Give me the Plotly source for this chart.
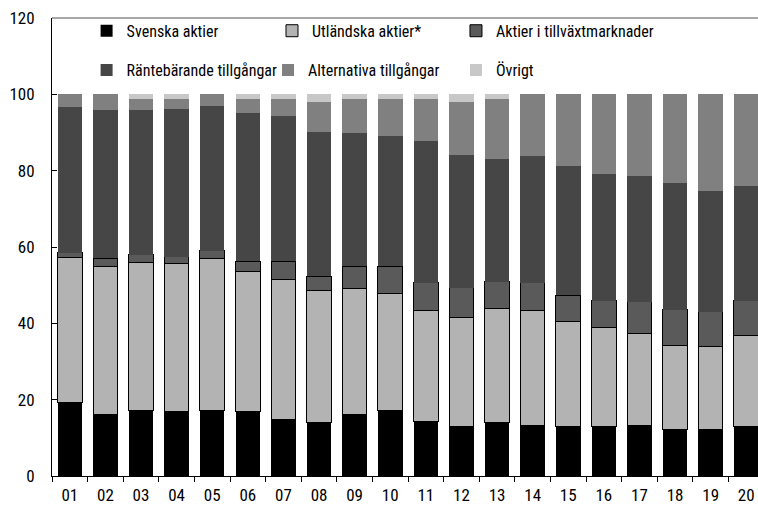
import plotly.graph_objects as go

years = ["01", "02", "03", "04", "05", "06", "07", "08", "09", "10",
         "11", "12", "13", "14", "15", "16", "17", "18", "19", "20"]

svenska = [19.2, 16.1, 17.1, 16.9, 17.1, 16.9, 14.9, 13.9, 16.1, 17.1,
           14.3, 12.9, 14.1, 13.2, 12.9, 13.1, 13.2, 12.2, 12.1, 13.1]
utlandska = [38.1, 38.8, 38.9, 38.7, 39.9, 36.6, 36.6, 34.7, 32.9, 30.8,
             29.1, 28.7, 29.9, 30.2, 27.6, 25.8, 24.2, 22.1, 21.9, 23.8]
tillvaxt = [1.2, 2.1, 2.0, 1.8, 2.0, 2.8, 4.8, 3.8, 6.0, 7.1,
            7.2, 7.7, 6.9, 7.2, 6.8, 7.0, 8.2, 9.3, 9.0, 9.0]
rante = [38.3, 38.8, 37.8, 38.8, 37.9, 38.9, 37.9, 37.7, 34.9, 34.1,
         37.1, 34.8, 32.1, 33.2, 33.9, 33.1, 33.1, 33.1, 31.8, 30.0]
alternativa = [3.2, 4.2, 3.1, 2.7, 3.1, 3.7, 4.7, 7.9, 9.0, 9.8,
               11.2, 13.9, 15.9, 16.2, 18.8, 21.0, 21.3, 23.3, 25.2, 24.1]
ovrigt = [0.0, 0.0, 1.1, 1.1, 0.0, 1.1, 1.1, 2.0, 1.1, 1.1,
          1.1, 2.0, 1.1, 0.0, 0.0, 0.0, 0.0, 0.0, 0.0, 0.0]

FONT = "Roboto Condensed, Liberation Sans Narrow, sans-serif"

# name, values, colour, outline width, legend id, legend x (paper), legend y (paper)
series = [
    ("Svenska aktier", svenska, "#000000", 0, "legend", 0.049, 0.972),
    ("Utländska aktier*", utlandska, "#b3b3b3", 1, "legend2", 0.3116, 0.972),
    ("Aktier i tillväxtmarknader", tillvaxt, "#5a5a5a", 1, "legend3", 0.5722, 0.972),
    ("Räntebärande tillgångar", rante, "#464646", 0, "legend4", 0.049, 0.886),
    ("Alternativa tillgångar", alternativa, "#808080", 0, "legend5", 0.3060, 0.886),
    ("Övrigt", ovrigt, "#c8c8c8", 0, "legend6", 0.5722, 0.886),
]

fig = go.Figure()
legends = {}
for name, vals, color, lw, leg, lx, ly in series:
    fig.add_trace(go.Bar(
        x=years, y=vals, name=name,
        marker=dict(color=color, line=dict(color="#000000", width=lw)),
        legend=leg,
    ))
    legends[leg] = dict(
        orientation="h", xanchor="left", yanchor="middle", x=lx, y=ly,
        bgcolor="rgba(0,0,0,0)", borderwidth=0,
        font=dict(family=FONT, size=16, color="#000000"),
        itemclick=False, itemdoubleclick=False,
    )

fig.update_layout(
    width=758, height=505, autosize=False,
    margin=dict(l=52, r=0, t=18, b=29),
    barmode="stack", bargap=0.31,
    plot_bgcolor="white", paper_bgcolor="white",
    font=dict(family=FONT, size=17, color="#000000"),
    showlegend=True,
    **legends,
    xaxis=dict(
        type="category", categoryorder="array", categoryarray=years,
        range=[-0.5, 19.33], automargin=False,
        showline=True, linecolor="#000000", linewidth=1,
        ticks="outside", tickson="boundaries", ticklen=5, tickcolor="#000000",
        showgrid=False, tickfont=dict(family=FONT, size=17),
        ticklabelstandoff=4,
    ),
    yaxis=dict(
        range=[0, 120], dtick=20, tick0=0, automargin=False,
        showline=True, linecolor="#000000", linewidth=1,
        ticks="inside", ticklen=5, tickcolor="#000000",
        showgrid=False, zeroline=False,
        tickfont=dict(family=FONT, size=17),
        ticklabelstandoff=13,
    ),
    shapes=[dict(type="line", xref="paper", yref="paper", x0=0, x1=1, y0=1, y1=1,
                 line=dict(color="#505050", width=1))],
)

fig.write_html("out.html", config={"displayModeBar": False},
               post_script="document.body.style.margin='0';")
